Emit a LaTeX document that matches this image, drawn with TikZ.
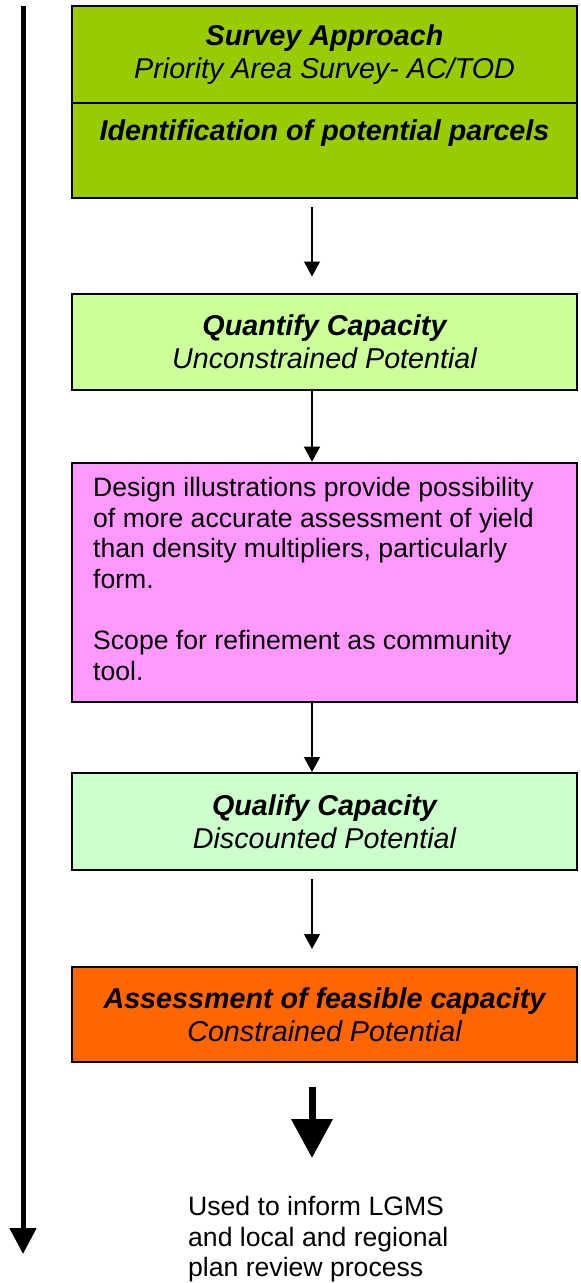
\documentclass[tikz,border=0pt]{standalone}
\usepackage{fontspec}
\setmainfont{Liberation Sans}
\usetikzlibrary{arrows.meta}

\definecolor{surveygreen}{HTML}{99CC00}
\definecolor{quantgreen}{HTML}{CCFF99}
\definecolor{designpink}{HTML}{FF99FF}
\definecolor{qualgreen}{HTML}{CCFFCC}
\definecolor{assessorange}{HTML}{FF6600}

\newcommand{\headfont}{\fontsize{28.7pt}{33pt}\selectfont\itshape}
\newcommand{\bodyfont}{\fontsize{26.6pt}{30.7pt}\selectfont}

\tikzset{
  stagebox/.style={draw=black, line width=2pt, inner sep=0pt,
    minimum width=505pt, align=center, font=\headfont},
  flowarrow/.style={line width=1.3pt, -{Triangle[length=15pt,width=16pt]}},
  bigarrow/.style={line width=7pt, -{Triangle[length=39pt,width=40pt]}},
  timearrow/.style={line width=5pt, -{Triangle[length=26pt,width=26pt]}},
}

\begin{document}
\begin{tikzpicture}[x=1pt, y=-1pt]
  \useasboundingbox (0,0) rectangle (581,1283);

  % overall sequence arrow on the left
  \coordinate (timetop) at (23,6);
  \coordinate (timeend) at (23,1254);
  \draw[timearrow] (timetop) -- (timeend);

  % stage 1: survey approach
  \node[stagebox, fill=surveygreen, minimum height=96.5pt] (survey) at (324.5,54.25)
    {\textbf{Survey Approach}\\Priority Area Survey- AC/TOD};
  \node[stagebox, fill=surveygreen, minimum height=95.8pt] (parcels) at (324.5,150.4) {};
  \node[font=\headfont\bfseries, anchor=base] (parcelstext) at (324.5,140)
    {Identification of potential parcels};

  % stage 2: quantify capacity
  \node[stagebox, fill=quantgreen, minimum height=96.5pt] (quantify) at (324.5,341.75)
    {\textbf{Quantify Capacity}\\Unconstrained Potential};

  % design illustrations note
  \node[stagebox, fill=designpink, minimum height=239pt] (design) at (324.5,582.2) {};
  \node[font=\bodyfont, anchor=north west, align=left, inner sep=0pt] (designtext) at (93,477)
    {Design illustrations provide possibility\\
     of more accurate assessment of yield\\
     than density multipliers, particularly\\
     form.\\[30.7pt]
     Scope for refinement as community\\
     tool.};

  % stage 3: qualify capacity
  \node[stagebox, fill=qualgreen, minimum height=97pt] (qualify) at (324.5,821.5)
    {\textbf{Qualify Capacity}\\Discounted Potential};

  % stage 4: feasible capacity
  \node[stagebox, fill=assessorange, minimum height=95pt] (assess) at (324.5,1014.5)
    {\textbf{Assessment of feasible capacity}\\Constrained Potential};

  % outcome
  \node[font=\bodyfont, anchor=north west, align=left, inner sep=0pt] (used) at (188,1196)
    {Used to inform LGMS\\and local and regional\\plan review process};

  % connectors between stages
  \draw[flowarrow, shorten <=8pt, shorten >=16pt]
    ([xshift=-12.5pt]parcels.south) -- ([xshift=-12.5pt]quantify.north);
  \draw[flowarrow]
    ([xshift=-12.5pt]quantify.south) -- ([xshift=-12.5pt]design.north);
  \draw[flowarrow]
    ([xshift=-12.5pt]design.south) -- ([xshift=-12.5pt]qualify.north);
  \draw[flowarrow, shorten <=8pt, shorten >=17pt]
    ([xshift=-12.5pt]qualify.south) -- ([xshift=-12.5pt]assess.north);

  \coordinate (bigstart) at (312,1087);
  \coordinate (bigend) at (312,1158);
  \draw[bigarrow] (bigstart) -- (bigend);
\end{tikzpicture}
\end{document}
